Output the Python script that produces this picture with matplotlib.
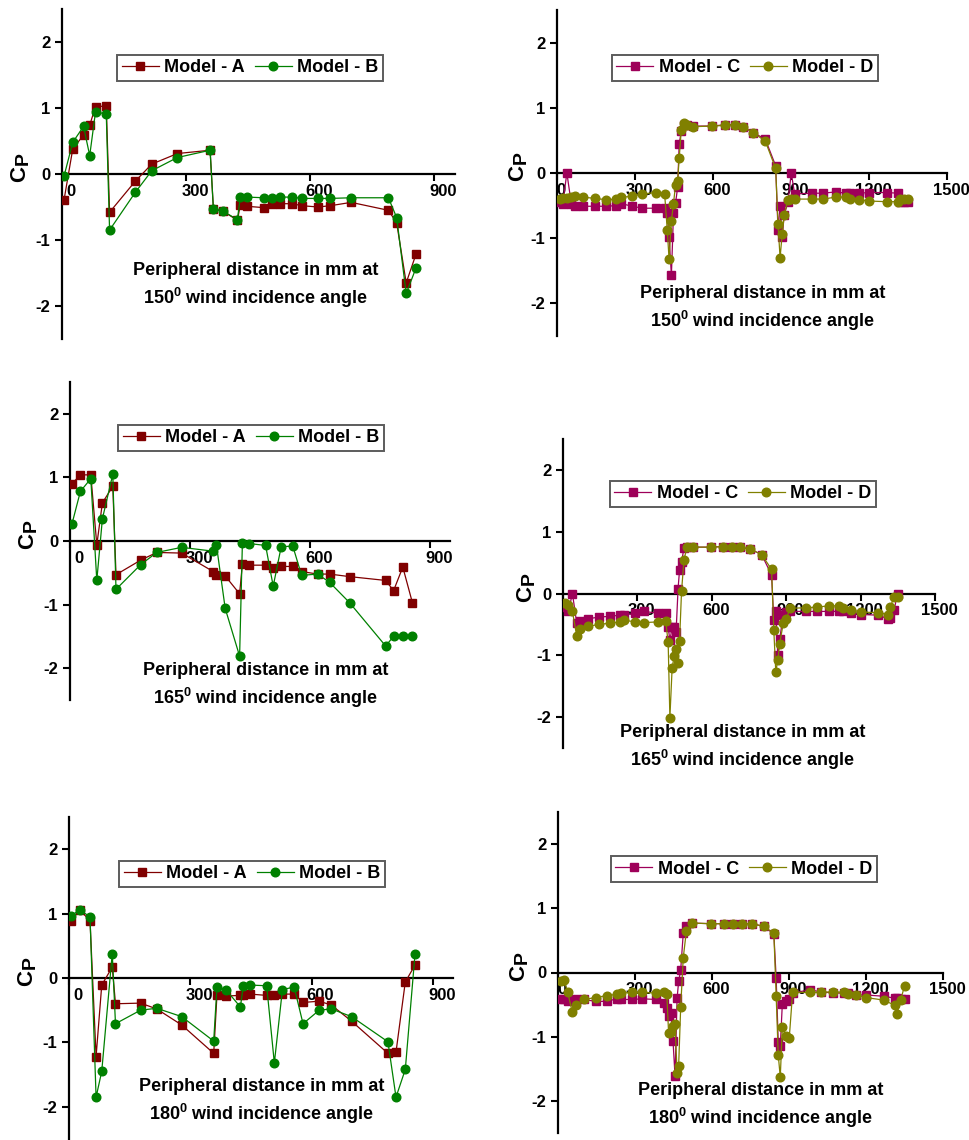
import numpy as np
import matplotlib.pyplot as plt
from matplotlib.transforms import ScaledTranslation

plt.rcParams['font.family'] = 'Liberation Sans'
plt.rcParams['font.weight'] = 'bold'
plt.rcParams['axes.unicode_minus'] = False
plt.rcParams['mathtext.fontset'] = 'custom'
plt.rcParams['mathtext.rm'] = 'Liberation Sans:bold'
plt.rcParams['mathtext.bf'] = 'Liberation Sans:bold'

W, H = 969, 1140

# --- tap positions along the periphery (mm) ---
X_AB = [5, 26, 52, 67, 81, 107, 115, 177, 217, 279, 358, 366, 388, 424, 431,
        448, 489, 508, 528, 557, 579, 619, 649, 699, 789, 809, 832, 856]

X_CD = [10, 22, 38, 55, 70, 100, 147, 190, 228, 247, 290, 328, 382, 414, 424,
        431, 440, 448, 456, 464, 470, 478, 488, 500, 523, 596, 647, 683, 715, 754,
        801, 841, 850, 858, 866, 874, 888, 901, 914, 981, 1023, 1072, 1113, 1128, 1160,
        1200, 1269, 1312, 1320, 1335, 1350]

# --- Cp, models A & B ---
A_150 = [-0.39, 0.38, 0.59, 0.74, 1.02, 1.03, -0.58, -0.11, 0.15, 0.31, 0.36, -0.53, -0.56, -0.70,
         -0.47, -0.49, -0.51, -0.45, -0.45, -0.45, -0.48, -0.50, -0.48, -0.43, -0.55, -0.74, -1.65, -1.21]
B_150 = [-0.03, 0.48, 0.72, 0.28, 0.94, 0.91, -0.85, -0.28, 0.05, 0.25, 0.36, -0.53, -0.56, -0.69,
         -0.35, -0.35, -0.36, -0.37, -0.35, -0.35, -0.37, -0.37, -0.37, -0.36, -0.36, -0.66, -1.81, -1.42]

A_165 = [0.90, 1.04, 1.04, -0.06, 0.60, 0.86, -0.53, -0.30, -0.18, -0.19, -0.48, -0.53, -0.55, -0.83,
         -0.36, -0.38, -0.38, -0.42, -0.40, -0.40, -0.48, -0.52, -0.52, -0.56, -0.62, -0.78, -0.41, -0.97]
B_165 = [0.27, 0.78, 0.98, -0.62, 0.35, 1.05, -0.76, -0.37, -0.18, -0.10, -0.16, -0.06, -1.06, -1.81,
         -0.03, -0.04, -0.07, -0.71, -0.09, -0.08, -0.54, -0.52, -0.65, -0.97, -1.65, -1.50, -1.50, -1.50]

A_180 = [0.88, 1.06, 0.89, -1.22, -0.11, 0.17, -0.40, -0.39, -0.48, -0.73, -1.17, -0.27, -0.28, -0.27,
         -0.27, -0.25, -0.27, -0.27, -0.25, -0.25, -0.38, -0.36, -0.42, -0.67, -1.17, -1.15, -0.06, 0.20]
B_180 = [0.96, 1.06, 0.95, -1.85, -1.45, 0.38, -0.71, -0.50, -0.47, -0.60, -0.98, -0.14, -0.18, -0.45,
         -0.13, -0.11, -0.12, -1.32, -0.18, -0.14, -0.71, -0.50, -0.48, -0.60, -0.99, -1.85, -1.42, 0.37]

# --- Cp, models C & D ---
C_150 = [-0.45, -0.47, 0.00, -0.47, -0.51, -0.51, -0.51, -0.51, -0.50, -0.47,
         -0.51, -0.54, -0.54, -0.54, -0.62, -0.98, -1.57, -0.62, -0.46, -0.22,
         0.45, 0.64, 0.74, 0.73, 0.72, 0.72, 0.74, 0.74, 0.71, 0.62,
         0.52, 0.11, -0.87, -0.50, -0.98, -0.64, -0.45, 0.00, -0.32, -0.31,
         -0.31, -0.29, -0.31, -0.31, -0.31, -0.30, -0.30, -0.31, -0.45, -0.45, -0.45]
D_150 = [-0.40, -0.38, -0.38, -0.37, -0.35, -0.37, -0.39, -0.41, -0.40, -0.37,
         -0.36, -0.32, -0.30, -0.32, -0.87, -1.32, -0.73, -0.47, -0.18, -0.12,
         0.23, 0.66, 0.77, 0.73, 0.71, 0.72, 0.73, 0.74, 0.71, 0.62,
         0.49, 0.07, -0.78, -1.30, -0.94, -0.64, -0.41, -0.40, -0.40, -0.40,
         -0.40, -0.37, -0.37, -0.40, -0.41, -0.43, -0.44, -0.44, -0.40, -0.40, -0.40]

C_165 = [-0.22, -0.28, 0.00, -0.47, -0.45, -0.41, -0.38, -0.37, -0.35, -0.35,
         -0.32, -0.29, -0.32, -0.32, -0.54, -0.76, -0.55, -0.54, -0.62, 0.08,
         0.38, 0.51, 0.74, 0.75, 0.75, 0.75, 0.76, 0.76, 0.75, 0.72,
         0.63, 0.30, -0.43, -0.29, -1.00, -0.73, -0.35, -0.30, -0.29, -0.29,
         -0.29, -0.29, -0.29, -0.29, -0.32, -0.34, -0.35, -0.41, -0.40, -0.26, 0.00]
D_165 = [-0.15, -0.19, -0.29, -0.68, -0.57, -0.53, -0.50, -0.48, -0.46, -0.43,
         -0.46, -0.47, -0.46, -0.44, -0.79, -2.01, -1.21, -1.01, -0.89, -1.12,
         -0.77, 0.04, 0.55, 0.75, 0.75, 0.75, 0.76, 0.76, 0.75, 0.72,
         0.63, 0.39, -0.59, -1.27, -1.08, -0.81, -0.48, -0.42, -0.24, -0.23,
         -0.22, -0.20, -0.20, -0.23, -0.26, -0.30, -0.31, -0.34, -0.22, -0.05, -0.06]

C_180 = [-0.41, -0.41, -0.44, -0.43, -0.42, -0.42, -0.45, -0.45, -0.41, -0.42,
         -0.42, -0.41, -0.42, -0.47, -0.55, -0.68, -0.63, -1.06, -1.61, -0.40,
         -0.14, 0.04, 0.61, 0.73, 0.77, 0.76, 0.76, 0.76, 0.76, 0.76,
         0.72, 0.60, -0.09, -1.08, -1.15, -0.49, -0.45, -0.41, -0.32, -0.27,
         -0.30, -0.32, -0.32, -0.32, -0.35, -0.35, -0.37, -0.40, -0.40, -0.41, -0.41]
D_180 = [-0.13, -0.11, -0.31, -0.61, -0.51, -0.42, -0.39, -0.36, -0.34, -0.32,
         -0.31, -0.31, -0.32, -0.31, -0.34, -0.95, -0.93, -0.84, -0.80, -1.56,
         -1.46, -0.54, 0.23, 0.64, 0.77, 0.76, 0.76, 0.76, 0.76, 0.76,
         0.72, 0.61, -0.36, -1.28, -1.63, -0.85, -0.99, -1.02, -0.31, -0.31,
         -0.31, -0.30, -0.31, -0.34, -0.35, -0.39, -0.43, -0.51, -0.65, -0.43, -0.21]

STYLE = {
    'A': dict(color='#800000', marker='s', label='Model - A'),
    'B': dict(color='#008000', marker='o', label='Model - B'),
    'C': dict(color='#9E0059', marker='s', label='Model - C'),
    'D': dict(color='#808000', marker='o', label='Model - D'),
}

# box = (left, top, right, bottom) in pixels; legend / caption / C_P centres in pixels
PANELS = [
    dict(box=(62, 9, 455, 339), xmax=950, ticks=[0, 300, 600, 900], angle='150', lab_dx=9,
         series=[('A', X_AB, A_150), ('B', X_AB, B_150)],
         legend=(250, 68), caption=(256, 286), ylab=(20, 174)),
    dict(box=(557, 10, 947, 336), xmax=1500, ticks=[0, 300, 600, 900, 1200, 1500], angle='150', lab_dx=4,
         series=[('C', X_CD, C_150), ('D', X_CD, D_150)],
         legend=(745, 68), caption=(763, 309), ylab=(518, 173)),
    dict(box=(70, 382, 450, 700), xmax=950, ticks=[0, 300, 600, 900], angle='165', lab_dx=9,
         series=[('A', X_AB, A_165), ('B', X_AB, B_165)],
         legend=(251, 438), caption=(266, 686), ylab=(28, 541)),
    dict(box=(563, 439, 935, 748), xmax=1500, ticks=[0, 300, 600, 900, 1200, 1500], angle='165', lab_dx=4,
         series=[('C', X_CD, C_165), ('D', X_CD, D_165)],
         legend=(743, 494), caption=(743, 748), ylab=(526, 594)),
    dict(box=(69, 817, 453, 1139), xmax=950, ticks=[0, 300, 600, 900], angle='180', lab_dx=9,
         series=[('A', X_AB, A_180), ('B', X_AB, B_180)],
         legend=(252, 874), caption=(262, 1102), ylab=(27, 978)),
    dict(box=(558, 812, 943, 1133), xmax=1500, ticks=[0, 300, 600, 900, 1200, 1500], angle='180', lab_dx=4,
         series=[('C', X_CD, C_180), ('D', X_CD, D_180)],
         legend=(744, 869), caption=(761, 1106), ylab=(519, 973)),
]

fig = plt.figure(figsize=(W / 100, H / 100), dpi=100)

for p in PANELS:
    l, t, r, b = p['box']
    ax = fig.add_axes([l / W, 1 - b / H, (r - l) / W, (b - t) / H])
    ax.set_xlim(0, p['xmax'])
    ax.set_ylim(-2.5, 2.5)
    ax.patch.set_visible(False)

    for key, xs, ys in p['series']:
        st = STYLE[key]
        ax.plot(xs, ys, color=st['color'], lw=0.9, marker=st['marker'],
                ms=5.5 if st['marker'] == 's' else 6.2, mfc=st['color'], mec=st['color'],
                label=st['label'], zorder=3)

    ax.spines['top'].set_visible(False)
    ax.spines['right'].set_visible(False)
    ax.spines['bottom'].set_position(('data', 0))
    for s in ('left', 'bottom'):
        ax.spines[s].set_linewidth(1.6)

    ax.set_yticks([-2, -1, 0, 1, 2])
    ax.set_xticks(p['ticks'])
    ax.tick_params(axis='both', direction='out', length=5, width=1.5, labelsize=12)
    ax.tick_params(axis='x', pad=2)
    shift = ScaledTranslation(p['lab_dx'] / 100, 0, fig.dpi_scale_trans)
    for lab in ax.get_xticklabels():
        lab.set_transform(lab.get_transform() + shift)

    lx, ly = p['legend']
    leg = ax.legend(loc='center', bbox_to_anchor=(lx / W, 1 - ly / H), bbox_transform=fig.transFigure,
                    ncol=2, fontsize=13, frameon=True, fancybox=False, edgecolor='#333333',
                    handlelength=2.05, handletextpad=0.3, columnspacing=0.55, borderpad=0.25,
                    borderaxespad=0)
    leg.get_frame().set_linewidth(1.4)

    cx, cy = p['caption']
    fig.text(cx / W, 1 - cy / H,
             'Peripheral distance in mm at\n' + p['angle'] + r'$^0$' + ' wind incidence angle',
             ha='center', va='center', fontsize=13, linespacing=1.4)

    yx, yy = p['ylab']
    fig.text(yx / W, 1 - yy / H, 'C', rotation=90, ha='center', va='center', fontsize=16)
    fig.text((yx + 3) / W, 1 - (yy - 15) / H, 'P', rotation=90, ha='center', va='center', fontsize=14)

fig.savefig('out.png', dpi=100)
